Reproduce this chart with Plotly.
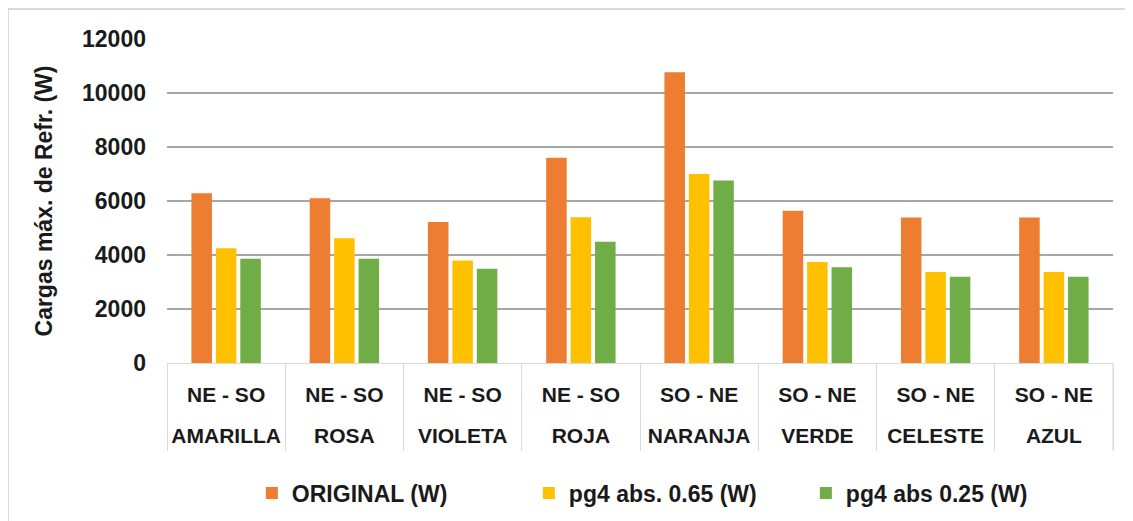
import plotly.graph_objects as go

orientacion = ["NE - SO", "NE - SO", "NE - SO", "NE - SO", "SO - NE", "SO - NE", "SO - NE", "SO - NE"]
viviendas = ["AMARILLA", "ROSA", "VIOLETA", "ROJA", "NARANJA", "VERDE", "CELESTE", "AZUL"]

original = [6290, 6100, 5220, 7600, 10770, 5640, 5390, 5390]
pg4_065 = [4250, 4620, 3800, 5400, 7000, 3740, 3370, 3370]
pg4_025 = [3860, 3860, 3490, 4490, 6760, 3550, 3190, 3190]

series_names = ["ORIGINAL (W)", "pg4 abs. 0.65 (W)", "pg4 abs 0.25 (W)"]
colors = ["#ED7D31", "#FFC000", "#70AD47"]
y_ticks = [0, 2000, 4000, 6000, 8000, 10000, 12000]

# page body has an 8px margin, so the figure is sized to fit the window
W, H = 1125, 513
L, R, T, B = 159, 20, 31, 158

fig = go.Figure()
for name, vals, col in zip(series_names, [original, pg4_065, pg4_025], colors):
    fig.add_trace(go.Bar(
        x=viviendas, y=vals, name=name,
        marker=dict(color=col, line=dict(width=0)),
    ))
# carrier for the second label row (draws nothing)
fig.add_trace(go.Scatter(x=viviendas, y=original, xaxis="x2", mode="none",
                         showlegend=False, hoverinfo="skip"))

font_family = "Liberation Sans, Arial, sans-serif"
txt = "#1a1a1a"

fig.update_layout(
    width=W, height=H,
    margin=dict(l=L, r=R, t=T, b=B),
    paper_bgcolor="white", plot_bgcolor="white",
    barmode="group", bargap=0.38, bargroupgap=0.16,
    font=dict(family=font_family, color=txt, size=20, weight="bold"),
    showlegend=True,
    legend=dict(
        orientation="h", xref="paper", x=0.0897, xanchor="left",
        yref="container", y=0.0546, yanchor="middle",
        font=dict(size=23, family=font_family, color=txt, weight="bold"),
        entrywidth=232, itemwidth=30, traceorder="normal",
    ),
    xaxis=dict(
        type="category", categoryorder="array", categoryarray=viviendas,
        tickmode="array", tickvals=viviendas, ticktext=orientacion,
        showgrid=False, showline=True, linecolor="#d9d9d9", linewidth=1,
        ticks="outside", tickson="boundaries", ticklen=87, tickcolor="#d9d9d9", tickwidth=1,
        ticklabelstandoff=13,
        tickfont=dict(size=21, family=font_family, color=txt, weight="bold"),
    ),
    xaxis2=dict(
        type="category", categoryorder="array", categoryarray=viviendas,
        overlaying="x", matches="x", anchor="y", side="bottom",
        tickmode="array", tickvals=viviendas, ticktext=viviendas,
        showgrid=False, showline=False, ticks="", ticklabelstandoff=58,
        tickfont=dict(size=21, family=font_family, color=txt, weight="bold"),
    ),
    yaxis=dict(
        range=[0, 12000], tickvals=y_ticks, ticktext=[str(v) for v in y_ticks],
        showgrid=True, gridcolor="#a6a6a6", gridwidth=1.5,
        zeroline=False, showline=False, ticks="",
        ticklabelstandoff=20,
        tickfont=dict(size=23, family=font_family, color=txt, weight="bold"),
        title=dict(text="Cargas máx. de Refr. (W)", standoff=22,
                   font=dict(size=23, family=font_family, color=txt, weight="bold")),
    ),
)

pw = W - L - R
ph = H - T - B
def px_x(x):
    return (x - L) / pw
def px_y(y):
    return (H - B - y) / ph

# right-most divider of the category table
fig.add_shape(type="line", xref="paper", yref="paper",
              x0=1, x1=1, y0=0, y1=px_y(H - B + 87),
              line=dict(color="#d9d9d9", width=1))
# light frame (top and left edges)
fig.add_shape(type="line", xref="paper", yref="paper",
              x0=px_x(0), x1=px_x(W), y0=px_y(1), y1=px_y(1),
              line=dict(color="#d9d9d9", width=2))
fig.add_shape(type="line", xref="paper", yref="paper",
              x0=px_x(0), x1=px_x(0), y0=px_y(1), y1=px_y(H),
              line=dict(color="#d9d9d9", width=2))

fig.write_html("out.html")
